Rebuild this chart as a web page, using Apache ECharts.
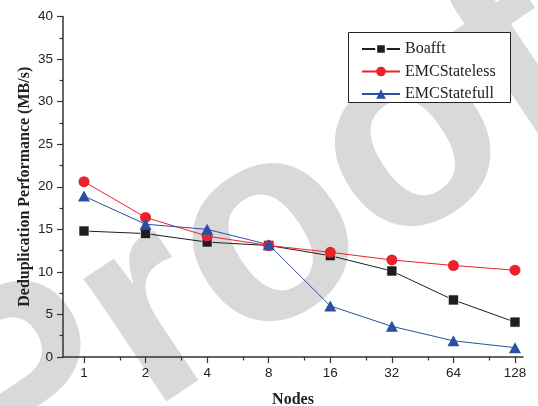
<!DOCTYPE html>
<html>
<head>
<meta charset="utf-8">
<script src="https://cdn.jsdelivr.net/npm/echarts@6/dist/echarts.min.js"></script>
<style>
html,body{margin:0;padding:0;background:#fff;}
#c{width:538px;height:406px;}
</style>
</head>
<body>
<div id="c"></div>
<script>
// ---- data ----
var nodes = [1, 2, 4, 8, 16, 32, 64, 128];
var minorNodes = [1.5, 3, 6, 12, 24, 48, 96];
var seriesNames = ['Boafft', 'EMCStateless', 'EMCStatefull'];
var boafft = [14.8, 14.5, 13.5, 13.1, 11.9, 10.1, 6.7, 4.1];
var emcStateless = [20.6, 16.4, 14.2, 13.1, 12.3, 11.4, 10.75, 10.2];
var emcStatefull = [18.9, 15.6, 15.0, 13.2, 6.0, 3.6, 1.9, 1.1];
var yTicks = [0, 5, 10, 15, 20, 25, 30, 35, 40];

function pairs(vals) {
  return nodes.map(function (n, i) { return [Math.log2(n), vals[i]]; });
}
var majorPos = nodes.map(function (n) { return Math.log2(n); });
var minorPos = minorNodes.map(function (n) { return Math.log2(n); });

var sans = '"Liberation Sans", Arial, sans-serif';
var serif = '"Liberation Serif", "Times New Roman", serif';
var axisColor = '#333';
var xMin = -0.341, xMax = 7.13;

var chart = echarts.init(document.getElementById('c'), null, {renderer: 'canvas'});
chart.setOption({
  animation: false,
  backgroundColor: '#fff',
  grid: {left: 63, top: 16.5, width: 460, height: 340.5, containLabel: false, outerBoundsMode: 'none'},
  graphic: [
    {
      type: 'text', z: -10, silent: true,
      x: -48, y: 452, rotation: 0.59,
      style: {
        text: 'Proof', fill: '#d9d9d9',
        font: 'bold 280px "Liberation Sans", Arial, sans-serif',
        align: 'left', verticalAlign: 'middle'
      }
    },
    {
      type: 'rect', z: 3, silent: true,
      shape: {x: 348.5, y: 32.5, width: 162, height: 70},
      style: {fill: '#fff', stroke: '#222', lineWidth: 1}
    }
  ],
  legend: {
    orient: 'vertical', left: 361, top: 41, padding: 0,
    itemWidth: 38, itemHeight: 12, itemGap: 6.5,
    data: seriesNames,
    textStyle: {fontFamily: serif, fontSize: 16, color: '#222', lineHeight: 14, padding: [0, 0, 0, 0]}
  },
  xAxis: [
    {
      type: 'value', min: xMin, max: xMax, position: 'bottom',
      name: 'Nodes', nameLocation: 'middle', nameGap: 35, nameMoveOverlap: false,
      nameTextStyle: {fontFamily: serif, fontWeight: 'bold', fontSize: 16, color: '#222'},
      axisLine: {show: true, onZero: false, lineStyle: {color: axisColor, width: 1.5}},
      axisTick: {show: true, inside: false, length: 6, customValues: majorPos, lineStyle: {color: axisColor, width: 1.2}},
      axisLabel: {customValues: majorPos, margin: 9, fontFamily: sans, fontSize: 13.5, color: '#222',
        formatter: function (v) { return String(Math.round(Math.pow(2, v))); }},
      splitLine: {show: false}
    },
    {
      type: 'value', min: xMin, max: xMax, position: 'bottom', offset: 0,
      axisLine: {show: false, onZero: false},
      axisTick: {show: true, inside: false, length: 3.5, customValues: minorPos, lineStyle: {color: axisColor, width: 1.2}},
      axisLabel: {show: false},
      splitLine: {show: false}
    }
  ],
  yAxis: {
    type: 'value', min: 0, max: 40, interval: 5,
    name: 'Deduplication Performance (MB/s)', nameLocation: 'middle', nameGap: 30, nameMoveOverlap: false,
    nameTextStyle: {fontFamily: serif, fontWeight: 'bold', fontSize: 16, color: '#222'},
    axisLine: {show: true, onZero: false, lineStyle: {color: axisColor, width: 1.5}},
    axisTick: {show: true, inside: false, length: 6, lineStyle: {color: axisColor, width: 1.2}},
    minorTick: {show: true, splitNumber: 2, length: 3.5, lineStyle: {color: axisColor, width: 1.2}},
    axisLabel: {margin: 10, fontFamily: sans, fontSize: 13.5, color: '#222',
      customValues: yTicks},
    splitLine: {show: false},
    minorSplitLine: {show: false}
  },
  series: [
    {
      name: seriesNames[0], type: 'line', data: pairs(boafft),
      symbol: 'rect', symbolSize: 10,
      lineStyle: {color: '#1e1e1e', width: 1},
      itemStyle: {color: '#1e1e1e', borderColor: '#fff', borderWidth: 0.6}, z: 2
    },
    {
      name: seriesNames[1], type: 'line', data: pairs(emcStateless),
      symbol: 'circle', symbolSize: 11,
      lineStyle: {color: '#ec2129', width: 1},
      itemStyle: {color: '#ec2129'}, z: 3
    },
    {
      name: seriesNames[2], type: 'line', data: pairs(emcStatefull),
      symbol: 'triangle', symbolSize: [12, 11],
      lineStyle: {color: '#2b4fa3', width: 1},
      itemStyle: {color: '#2b4fa3'}, z: 4
    }
  ]
});
</script>
</body>
</html>
